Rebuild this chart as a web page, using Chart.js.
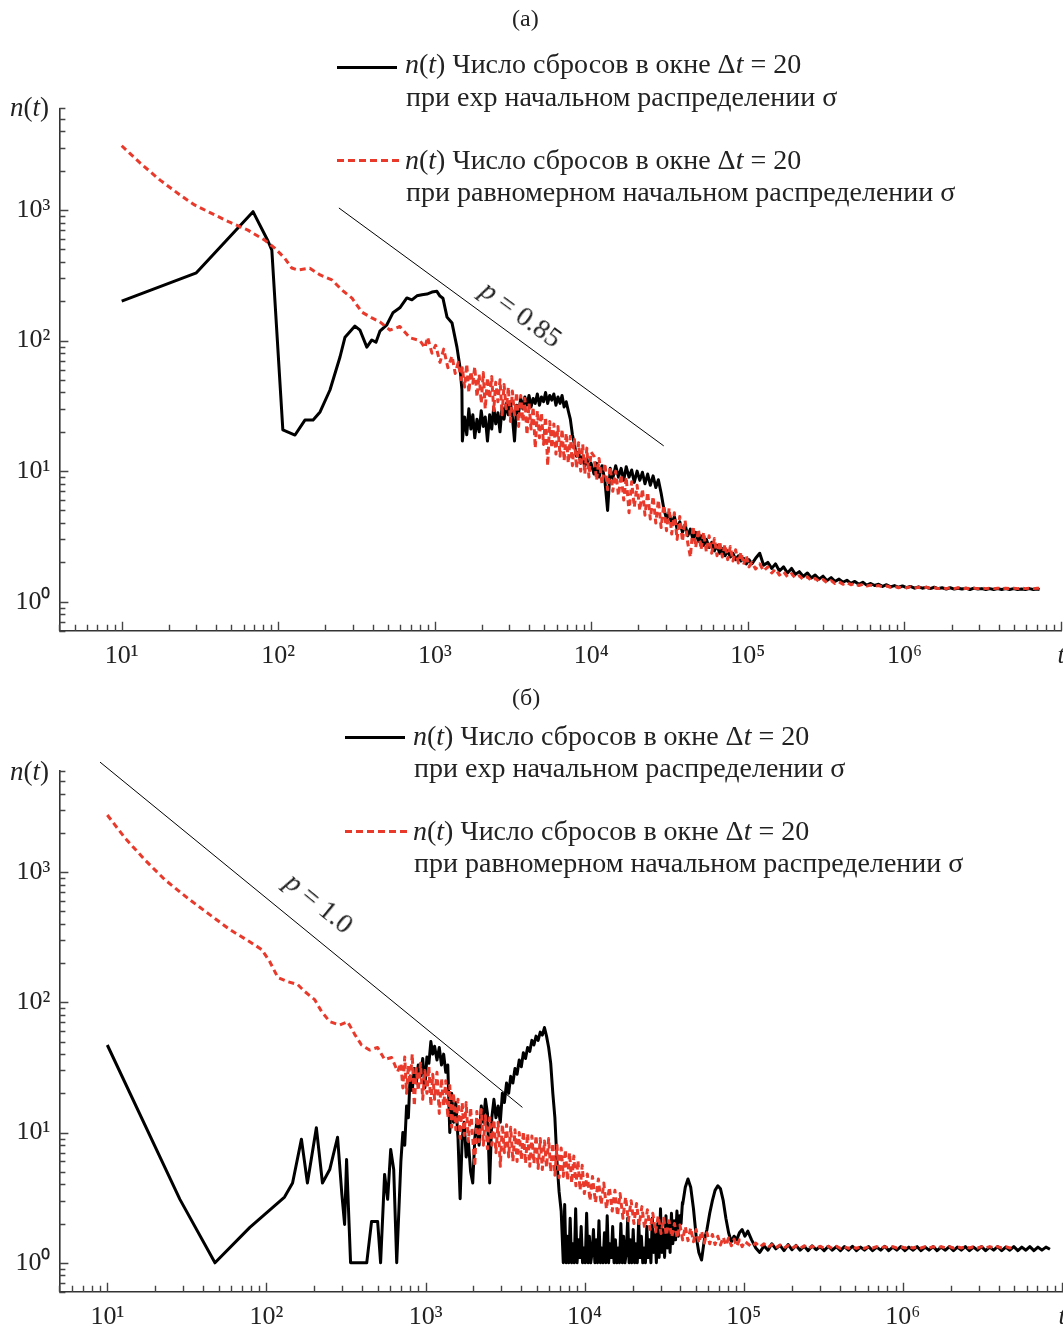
<!DOCTYPE html>
<html>
<head>
<meta charset="utf-8">
<script src="https://cdn.jsdelivr.net/npm/chart.js@4.4.1/dist/chart.umd.min.js"></script>
<style>
  html, body { margin: 0; padding: 0; background: #fff; }
  #page { position: relative; width: 1063px; height: 1325px; overflow: hidden; font-family: "Liberation Serif", "Times New Roman", serif; color: #222; }
  canvas { position: absolute; left: 0; }
  .t { position: absolute; white-space: nowrap; line-height: 1; transform: translateY(-50%); }
  .leg { font-size: 28px; }
  .rot { position: absolute; white-space: nowrap; line-height: 1; font-size: 28px; }
  .smp { position: absolute; height: 3px; }
  .blk { background: #000; }
  .red { background: repeating-linear-gradient(90deg, #e8392b 0 7px, transparent 7px 11px); }
</style>
</head>
<body>
<div id="page">
  <canvas id="cA" width="1063" height="680" style="top:0"></canvas>
  <canvas id="cB" width="1063" height="645" style="top:680px"></canvas>

  <div class="t" style="left:512px; top:18px; font-size:24px;">(а)</div>
  <div class="t" style="left:512px; top:697px; font-size:24px;">(б)</div>

  <div class="t" style="left:10px; top:107px; font-size:27px;"><i>n</i>(<i>t</i>)</div>
  <div class="t" style="left:10px; top:771px; font-size:27px;"><i>n</i>(<i>t</i>)</div>

  <div class="smp blk" style="left:337px; top:66px; width:60px;"></div>
  <div class="t leg" style="left:405px; top:64px;"><i>n</i>(<i>t</i>) Число сбросов в окне Δ<i>t</i> = 20</div>
  <div class="t leg" style="left:406px; top:97px;">при exp начальном распределении σ</div>
  <div class="smp red" style="left:337px; top:159px; width:63px;"></div>
  <div class="t leg" style="left:405px; top:160px;"><i>n</i>(<i>t</i>) Число сбросов в окне Δ<i>t</i> = 20</div>
  <div class="t leg" style="left:406px; top:192px;">при равномерном начальном распределении σ</div>

  <div class="smp blk" style="left:345px; top:736px; width:60px;"></div>
  <div class="t leg" style="left:413px; top:736px;"><i>n</i>(<i>t</i>) Число сбросов в окне Δ<i>t</i> = 20</div>
  <div class="t leg" style="left:414px; top:768px;">при exp начальном распределении σ</div>
  <div class="smp red" style="left:345px; top:830px; width:63px;"></div>
  <div class="t leg" style="left:413px; top:831px;"><i>n</i>(<i>t</i>) Число сбросов в окне Δ<i>t</i> = 20</div>
  <div class="t leg" style="left:414px; top:863px;">при равномерном начальном распределении σ</div>

  <div class="rot" id="pA"><i>p</i> = 0.85</div>
  <div class="rot" id="pB"><i>p</i> = 1.0</div>
</div>
<script>
// ---------------- DATA ----------------
// Tick values / labels
const xMajorTicks = [1e1, 1e2, 1e3, 1e4, 1e5, 1e6, 1e7];
const xTickLabels = ['10¹', '10²', '10³', '10⁴', '10⁵', '10⁶', 't'];
const yMajorTicks = [1, 10, 100, 1000];
const yTickLabels = ['10⁰', '10¹', '10²', '10³'];

// Panel (a): exp initial distribution (black), early part
const tA_expHead = [10,30,69,86,91,107,128,148,167,185,214,248,267,309,333,368,396,421,446,494,540,598,663,714,769,828,891,959,1031,1079,1127,1197,1289,1385,1447,1490];
const nA_expHead = [200,330,970,578,493,20.7,18.9,24.6,24.6,28.4,41.8,74.8,106,129,120,89,101,97,118,132,163,178,212,205,220,224,227,235,238,219,211,151,136,89,63,42];

// Panel (a): uniform initial distribution (red), early part
const tA_uniHead = [10,13.1,17.6,23.6,29.4,39.4,49,64,82,95,110,122,133,159,185,220,255,296,342,396,446,517,598,694,804,864,900,959,1013,1079,1140,1212,1289,1350,1412,1475];
const nA_uniHead = [3100,2290,1690,1300,1087,914,805,700,587,510,427,359,347,358,318,291,244,211,165,149,139,120,128,105,100,88,106,80,92,68,86,62,76,56,68,50];

// Panel (a): common time points for the late part
const tA_tail = [
  1500,1550,1600,1650,1700,1750,1800,1860,1920,1980,
  2040,2100,2170,2240,2310,2380,2450,2530,2610,2690,
  2770,2860,2950,3040,3130,3230,3330,3430,3540,3650,
  3760,3880,4000,4120,4250,4380,4520,4660,4800,4950,
  5100,5260,5420,5590,5760,5940,6120,6310,6500,6700,
  6910,7120,7340,7570,7800,8040,8290,8550,8810,9080,
  9360,9650,9950,
  10400,10800,11200,11700,12200,12700,13200,13700,14300,14900,
  15500,16100,16700,17400,18100,18800,19600,20400,21200,22000,
  22900,23800,24800,25800,26800,27900,29000,30200,31400,32600,
  33900,35300,36700,38200,39700,41300,42900,44600,46400,48300,
  50200,52200,54300,56500,58700,61100,63500,66000,68700,71400,
  74300,77200,80300,83500,86900,90300,93900,97700,101600,
  106000,112000,119000,126000,134000,142000,150000,159000,169000,179000,
  190000,201000,213000,226000,240000,254000,269000,285000,302000,320000,
  340000,360000,382000,405000,429000,455000,482000,511000,542000,574000,
  609000,645000,684000,725000,769000,815000,864000,916000,971000,1030000,
  1090000,1160000,1230000,1300000,1380000,1460000,1550000,1640000,1740000,1850000,
  1960000,2080000,2200000,2330000,2470000,2620000,2780000,2950000,3120000,3310000,
  3510000,3720000,3940000,4180000,4430000,4700000,4980000,5280000,5590000,5930000,
  6280000,6660000,7060000,7300000
];
const nA_expTail = [
  17,26,19,30,21,27,18,25,20,29,
  22,26,17,27,21,31,23,28,20,31,
  25,33,27,34,26,17,32,28,36,30,
  37,32,38,31,36,33,39,32,37,34,
  40,33,38,35,39,32,37,33,38,31,
  34,29,25,19,16,13,14,11.5,13,11,
  12.5,10.5,11.5,
  9.5,11.5,9,11,8.5,5,10.5,8.8,11,9,
  10.5,8.5,10.8,9,10.2,8.2,10,8.5,9.8,8,
  9.5,7.8,9.2,7.5,8.6,6.8,5.2,4.3,4.8,3.9,
  4.5,3.6,4.1,3.4,3.9,3.2,3.6,3.0,3.4,2.9,
  3.2,2.7,3.0,2.6,2.85,2.45,2.7,2.35,2.55,2.25,
  2.45,2.2,2.35,2.1,2.25,2.05,2.15,1.95,2.1,
  1.95,2.15,2.35,1.9,2.0,1.8,1.95,1.72,1.85,1.66,
  1.8,1.62,1.7,1.56,1.66,1.52,1.6,1.49,1.57,1.45,
  1.53,1.43,1.49,1.41,1.46,1.38,1.43,1.36,1.41,1.34,
  1.38,1.33,1.36,1.31,1.35,1.3,1.33,1.29,1.32,1.28,
  1.31,1.27,1.3,1.27,1.29,1.26,1.29,1.26,1.28,1.25,
  1.28,1.25,1.27,1.25,1.27,1.24,1.27,1.25,1.26,1.24,
  1.26,1.24,1.26,1.24,1.26,1.24,1.26,1.24,1.25,1.24,
  1.26,1.24,1.25,1.24
];
const nA_uniTail = [
  62,44,66,40,58,47,63,37,55,33,
  57,30,52,36,53,29,48,34,50,27,
  46,30,44,24,41,27,40,22,38,24,
  36,19,33,21,31,15,29,18,28,16,
  26,11,24,15,23,13.5,22,13,21,12,
  19.5,11.5,18.5,11,17.5,10.5,16.5,10,16,9.5,
  15,9,14,
  13,8.5,12.5,8,11.5,7.2,10.8,7,10,6.5,
  9.4,6,9,4.8,8.3,5.3,7.8,5,7.3,4.6,
  6.9,4.3,6.4,4,6,3.7,5.5,3.5,5.2,3.3,
  4.8,3.0,4.5,2.9,4.2,2.8,2.2,3.8,2.6,3.6,
  2.5,3.4,2.4,3.2,2.35,3.05,2.25,2.9,2.2,2.75,
  2.1,2.65,2.05,2.5,1.98,2.4,1.92,2.25,1.85,
  2.0,1.78,1.95,1.72,1.85,1.66,1.78,1.6,1.7,1.55,
  1.64,1.52,1.58,1.48,1.55,1.45,1.51,1.43,1.48,1.4,
  1.45,1.38,1.42,1.36,1.4,1.35,1.38,1.33,1.36,1.32,
  1.34,1.31,1.33,1.3,1.32,1.29,1.31,1.28,1.3,1.28,
  1.3,1.27,1.29,1.27,1.29,1.27,1.28,1.26,1.28,1.26,
  1.28,1.26,1.28,1.26,1.27,1.26,1.27,1.26,1.27,1.26,
  1.27,1.26,1.27,1.26,1.27,1.26,1.27,1.26,1.27,1.26,
  1.27,1.26,1.27,1.27
];

// Panel (b): exp initial distribution (black), early part
const tB_expHead = [10,28.6,47.5,78.7,130,146,166,181,206,225,250,280,298,310,319,338,427,458,500,522,553,578,604,631,659];
const nB_expHead = [47,3.07,1.0,1.87,3.2,4.1,8.9,4.1,10.9,4.1,5.2,9.2,3.35,1.97,6.2,1.0,1.0,2.08,2.08,1.0,4.77,3.07,7.4,5.2,1.0];

// Panel (b): exp (black), finely sampled stretch after the collapse
const tB_expMid = [
  7340,7490,7640,7790,7950,8110,8270,8440,8610,8780,
  8960,9140,9320,9510,9700,9890,10090,10290,10500,10710,
  10920,11140,11360,11590,11820,12060,12300,12550,12800,13060,
  13320,13590,13860,14140,14420,14710,15000,15300,15610,15920,
  16240,16560,16890,17230,17570,17920,18280,18650,19020,19400,
  19790,20190,20590,21000,21420,21850,22290,22730,23180,23640,
  24110,24590,25080,25580,26090,26610,27140,27680,28230,28800,
  29380,29970,30570,31180,31800,32440,33090,33750,34430,35120,
  35820,36540,37270,38020,38780,39560,40350,41160
];
const nB_expMid = [
  1.0,2.8,1.0,1.6,1.0,2.2,1.0,1.4,1.0,2.6,
  1.0,1.5,1.1,1.9,1.0,1.3,1.0,2.4,1.0,1.6,
  1.0,1.2,1.8,1.0,1.5,1.0,2.1,1.0,1.3,1.0,
  1.7,1.0,2.3,1.0,1.4,1.1,1.9,1.0,1.5,1.0,
  1.3,1.0,2.0,1.0,1.6,1.0,1.2,2.2,1.0,1.5,
  1.0,1.8,1.0,1.4,1.0,2.1,1.1,1.6,1.0,1.3,
  1.0,1.9,1.1,1.5,1.0,2.2,1.2,1.7,1.0,2.0,
  1.1,2.6,1.2,1.8,1.1,2.3,1.3,2.0,1.2,2.4,
  1.4,2.1,1.5,2.5,1.6,2.3,2.0,2.9
];

// Panel (b): uniform initial distribution (red), early part
const tB_uniHead = [10,12.9,17.2,23,33,44,59,78.5,93.5,105,118,136,157,174,201,222,250,288,324,358,396,445,500,553,612,668];
const nB_uniHead = [2740,1830,1242,873,612,471,361,292,254,205,155,144,137,121,105,85,71,67,71,57,47,43,45,36.4,37.7,29.4];

// Panel (b): common time points for the late part
const tB_tail = [
  700,720,740,760,780,800,825,850,875,900,
  930,960,990,1020,1050,1080,1110,1140,1180,1220,
  1260,1300,1340,1380,1420,1460,1500,1550,1600,1650,
  1700,1750,1800,1860,1920,1980,2040,2100,2170,2240,
  2310,2380,2450,2530,2610,2690,2770,2860,2950,3040,
  3130,3230,3330,3430,3540,3650,3760,3880,4000,4120,
  4250,4380,4520,4660,4800,4950,5100,5260,5420,5590,
  5760,5940,6120,6310,6500,6700,6910,7120,7340,7570,
  7800,8040,8290,8550,8810,9080,9360,9650,9950,
  10400,10800,11200,11700,12200,12700,13200,13700,14300,14900,
  15500,16100,16700,17400,18100,18800,19600,20400,21200,22000,
  22900,23800,24800,25800,26800,27900,29000,30200,31400,32600,
  33900,35300,36700,38200,39700,41300,42900,44600,46400,48300,
  50200,52200,54300,56500,58700,61100,63500,66000,68700,71400,
  74300,77200,80300,83500,86900,90300,93900,97700,101600,
  106000,112000,119000,126000,134000,142000,150000,159000,169000,179000,
  190000,201000,213000,226000,240000,254000,269000,285000,302000,320000,
  340000,360000,382000,405000,429000,455000,482000,511000,542000,574000,
  609000,645000,684000,725000,769000,815000,864000,916000,971000,1030000,
  1090000,1160000,1230000,1300000,1380000,1460000,1550000,1640000,1740000,1850000,
  1960000,2080000,2200000,2330000,2470000,2620000,2780000,2950000,3120000,3310000,
  3510000,3720000,3940000,4180000,4430000,4700000,4980000,5280000,5590000,5930000,
  6280000,6660000,7060000,7480000,7930000,8400000
];
const nB_expTail = [
  6,10,8,16,13,27,21,31,24,33,
  27,37,22,38,34,50,40,46,36,45,
  33,40,29,33,10,20,12,17,9,3.1,
  9,12,6.5,8.5,5,4.1,9,12,8,16,
  12,18,14,4.1,13,18,13,16,12,20,
  17,24,20,27,24,31,28,36,32,41,
  37,45,42,51,47,55,51,59,56,64,
  55,45,34,20,13,6,3.5,2.5,1.0,2.8,
  1.0,1.9,1.0,2.6,1.1,1.8,1.0,2.2,1.0,
  1.6,1.0,2.4,1.0,1.5,1.0,2.0,1.0,1.3,1.0,
  1.8,1.0,1.4,1.1,2.2,1.0,1.5,1.0,1.9,1.1,
  1.6,1.0,1.9,1.2,2.2,1.1,2.0,1.2,2.7,1.3,
  2.3,1.4,2.0,1.6,2.3,2.8,3.8,4.4,3.8,2.6,
  1.6,1.2,1.05,1.5,1.8,2.4,3.0,3.6,3.9,3.7,
  3.0,2.2,1.7,1.45,1.6,1.5,1.7,1.8,1.6,
  1.75,1.5,1.3,1.2,1.35,1.25,1.4,1.28,1.36,1.24,
  1.38,1.26,1.36,1.25,1.34,1.24,1.35,1.26,1.33,1.24,
  1.34,1.25,1.33,1.24,1.33,1.25,1.34,1.24,1.32,1.25,
  1.33,1.24,1.32,1.25,1.34,1.24,1.32,1.25,1.33,1.24,
  1.32,1.25,1.33,1.24,1.32,1.25,1.33,1.24,1.32,1.25,
  1.33,1.24,1.32,1.25,1.33,1.24,1.32,1.25,1.33,1.24,
  1.32,1.25,1.33,1.24,1.32,1.25,1.33,1.24,1.32,1.25,
  1.33,1.24,1.32,1.25,1.32,1.27
];
const nB_uniTail = [
  34,22,38,20,33,24,40,16,31,21,
  34,18,30,20,32,16,28,18,29,14,
  26,16,25,13,23,11,20,10.5,18,9,
  17,9.5,17,8.5,15.5,9,5.5,14.5,8.5,15,
  8,13.5,7.5,13,8,12.5,7,12,5.5,11.5,
  7,11.5,6.5,11,6,10.5,6,10,6.2,10.2,
  5.8,9.8,5.5,9.4,5.8,9.5,5.3,9,5.2,8.6,
  5.4,9,5,8.3,4.7,8,4.5,7.6,4.6,7.4,
  4.3,7,4.1,6.6,3.9,6.1,3.6,5.6,3.4,
  4.8,3.0,4.6,2.9,4.4,2.8,4.1,2.6,3.8,2.5,
  3.6,2.3,3.4,2.2,3.2,2.1,3.0,2.0,2.85,1.95,
  2.7,1.85,2.55,1.8,2.4,1.72,2.3,1.68,2.2,1.62,
  2.1,1.58,2.0,1.55,1.95,1.5,1.9,1.48,1.85,1.45,
  1.8,1.42,1.75,1.42,1.7,1.4,1.65,1.38,1.6,1.37,
  1.57,1.36,1.55,1.35,1.52,1.34,1.5,1.33,1.46,
  1.4,1.33,1.42,1.32,1.4,1.31,1.38,1.3,1.37,1.3,
  1.36,1.29,1.35,1.29,1.35,1.29,1.34,1.29,1.34,1.29,
  1.34,1.29,1.34,1.29,1.33,1.29,1.33,1.29,1.33,1.29,
  1.33,1.3,1.33,1.3,1.33,1.3,1.33,1.3,1.33,1.3,
  1.33,1.3,1.33,1.3,1.33,1.3,1.33,1.3,1.33,1.3,
  1.33,1.3,1.33,1.3,1.33,1.3,1.33,1.3,1.33,1.3,
  1.33,1.3,1.33,1.3,1.33,1.3,1.32
];

// Power-law guide lines (endpoints)
const slopeA_t = [244, 29000];
const slopeA_n = [1035, 15.6];
const slopeB_t = [9, 4064];
const slopeB_n = [6985, 15.6];

// ---------------- CHARTS ----------------
const SERIF = '"Liberation Serif", "Times New Roman", serif';
const RED = '#e8392b';

function pts(ts, ns) { return ns.map((n, i) => ({ x: ts[i], y: n })); }

const innerTicks = {
  id: 'innerTicks',
  afterDraw(chart) {
    const { ctx, chartArea: { left, bottom } } = chart;
    const xs = chart.scales.x, ys = chart.scales.y;
    ctx.save();
    ctx.strokeStyle = '#444';
    ctx.lineWidth = 1.4;
    ctx.beginPath();
    for (let e = Math.floor(Math.log10(xs.min)); e <= Math.ceil(Math.log10(xs.max)); e++) {
      for (let m = 1; m <= 9; m++) {
        const v = m * Math.pow(10, e);
        if (v < xs.min * 0.999 || v > xs.max * 1.001) continue;
        const p = Math.round(xs.getPixelForValue(v)) + 0.5;
        const len = m === 1 ? 9 : 6;
        ctx.moveTo(p, bottom); ctx.lineTo(p, bottom - len);
      }
    }
    for (let e = Math.floor(Math.log10(ys.min)); e <= Math.ceil(Math.log10(ys.max)); e++) {
      for (let m = 1; m <= 9; m++) {
        const v = m * Math.pow(10, e);
        if (v < ys.min * 0.999 || v > ys.max * 1.001) continue;
        const p = Math.round(ys.getPixelForValue(v)) + 0.5;
        const len = m === 1 ? 9 : 6;
        ctx.moveTo(left, p); ctx.lineTo(left + len, p);
      }
    }
    ctx.stroke();
    ctx.restore();
  }
};

function makeChart(canvasId, cfg) {
  const tickFont = (c) => ({
    family: SERIF, size: 26,
    style: (c.tick && c.tick.label === 't') ? 'italic' : 'normal'
  });
  return new Chart(document.getElementById(canvasId), {
    type: 'line',
    data: {
      datasets: [
        { data: cfg.red, borderColor: RED, borderWidth: 3, borderDash: [6, 4], pointRadius: 0, tension: 0, fill: false, borderJoinStyle: 'round' },
        { data: cfg.black, borderColor: '#000', borderWidth: 3, pointRadius: 0, tension: 0, fill: false, borderJoinStyle: 'round' },
        { data: cfg.slope, borderColor: '#000', borderWidth: 1, pointRadius: 0, tension: 0, fill: false, clip: false }
      ]
    },
    options: {
      responsive: false,
      animation: false,
      parsing: false,
      events: [],
      layout: { padding: cfg.padding },
      plugins: { legend: { display: false }, tooltip: { enabled: false }, title: { display: false } },
      scales: {
        x: {
          type: 'logarithmic', position: 'bottom', min: cfg.xmin, max: 1e7,
          grid: { display: false, drawTicks: false },
          border: { display: true, color: '#333', width: 1.6 },
          afterBuildTicks: (s) => { s.ticks = xMajorTicks.map(v => ({ value: v })); },
          ticks: { autoSkip: false, maxRotation: 0, minRotation: 0, padding: cfg.xpad, color: '#222', font: tickFont,
                   callback: (v, i) => xTickLabels[i] },
          afterFit: (s) => { s.height = cfg.xh; s.paddingLeft = 0; s.paddingRight = 0; }
        },
        y: {
          type: 'logarithmic', position: 'left', min: 0.6, max: 6000,
          grid: { display: false, drawTicks: false },
          border: { display: true, color: '#333', width: 1.6 },
          afterBuildTicks: (s) => { s.ticks = yMajorTicks.map(v => ({ value: v })); },
          ticks: { autoSkip: false, padding: 9, color: '#222', font: tickFont,
                   callback: (v, i) => yTickLabels[i] },
          afterFit: (s) => { s.width = 59.4; s.paddingTop = 0; s.paddingBottom = 0; }
        }
      }
    },
    plugins: [innerTicks]
  });
}

// black curve of panel (b): common grid, with the finely sampled stretch swapped in
const bTail = pts(tB_tail, nB_expTail);
const bMidStart = tB_expMid[0], bMidEnd = tB_expMid[tB_expMid.length - 1];
const blackB = pts(tB_expHead, nB_expHead)
  .concat(bTail.filter(p => p.x < bMidStart))
  .concat(pts(tB_expMid, nB_expMid))
  .concat(bTail.filter(p => p.x > bMidEnd));

makeChart('cA', {
  black: pts(tA_expHead.concat(tA_tail), nA_expHead.concat(nA_expTail)),
  red: pts(tA_uniHead.concat(tA_tail), nA_uniHead.concat(nA_uniTail)),
  slope: pts(slopeA_t, slopeA_n),
  xmin: 4, padding: { top: 108.3, right: 2, bottom: 0, left: 0 }, xh: 49.3, xpad: 10
});
makeChart('cB', {
  black: blackB,
  red: pts(tB_uniHead.concat(tB_tail), nB_uniHead.concat(nB_uniTail)),
  slope: pts(slopeB_t, slopeB_n),
  xmin: 5, padding: { top: 90.7, right: 1, bottom: 0, left: 0 }, xh: 33.3, xpad: 10
});

// rotated slope annotations, centred on their spots
function placeRot(id, cx, cy, deg) {
  const el = document.getElementById(id);
  const w = el.offsetWidth, h = el.offsetHeight;
  el.style.left = (cx - w / 2) + 'px';
  el.style.top = (cy - h / 2) + 'px';
  el.style.transform = 'rotate(' + deg + 'deg)';
}
placeRot('pA', 521, 314, 36.2);
placeRot('pB', 319, 903, 39.3);
</script>
</body>
</html>
